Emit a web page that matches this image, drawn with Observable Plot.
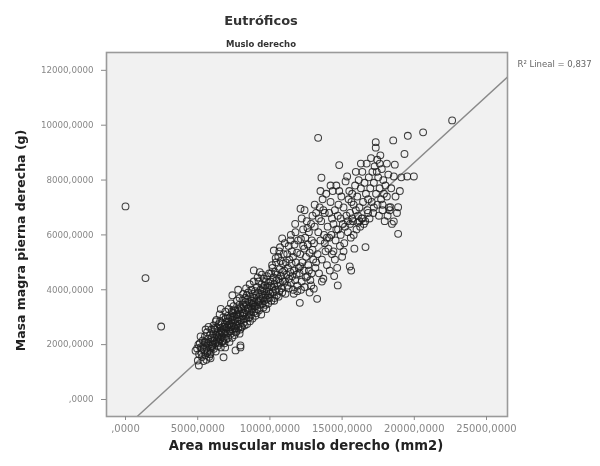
<!DOCTYPE html>
<html>
<head>
<meta charset="utf-8">
<script src="https://cdn.jsdelivr.net/npm/d3@7"></script>
<script src="https://cdn.jsdelivr.net/npm/@observablehq/plot@0.6"></script>
<style>
  html, body { margin: 0; padding: 0; background: #ffffff; }
  #chart svg { display: block; filter: blur(0.45px); }
</style>
</head>
<body>
<div id="chart"></div>
<script>
// ---- Data ----
const titulo = "Eutróficos";
const subtitulo = "Muslo derecho";
const etiquetaX = "Area muscular muslo derecho (mm2)";
const etiquetaY = "Masa magra pierna derecha (g)";
const etiquetaAjuste = "R² Lineal = 0,837";

const ticksX = [0, 5000, 10000, 15000, 20000, 25000];
const ticksY = [0, 2000, 4000, 6000, 8000, 10000, 12000];

// fitted line
const ajustePendiente = 0.4825;
const ajusteIntercepto = -1011;

// [area muscular (mm2), masa magra (g)]
const muestras = [
  [0,7040],[1385,4425],[2470,2660],
  [4850,1780],[4960,1860],[5010,1420],[5080,1240],[5100,1650],[5150,2050],[5200,1900],[5250,1700],[5300,1550],[5350,2150],
  [5400,1980],[5450,1800],[5500,2300],[5520,1620],[5580,2080],[5600,1900],[5650,2450],[5700,1750],[5720,2200],[5780,2000],
  [5800,1560],[5850,2350],[5880,1850],[5900,2100],[5950,2550],[5980,1950],[6000,2250],[5200,2300],[5600,1450],[5750,2650],
  [5400,1400],[5900,1700],[5050,2000],[5300,1850],[5700,2050],[5850,1650],[6000,1900],[5500,2100],[5650,1700],[5550,2550],
  [6050,2000],[6080,2400],[6100,2700],[6120,1850],[6150,2250],[6200,2550],[6220,2050],[6250,1750],[6280,2350],[6300,2900],
  [6320,2150],[6350,2600],[6380,1950],[6400,2450],[6420,2250],[6450,2750],[6480,2050],[6500,2400],[6520,3100],[6550,2200],
  [6580,2600],[6600,1900],[6620,2500],[6650,2800],[6680,2300],[6700,2100],[6720,2650],[6750,2450],[6780,3000],[6800,2250],
  [6820,2550],[6850,2050],[6880,2750],[6900,2400],[6920,3200],[6950,2600],[6980,2200],[7000,2850],[6150,2600],[6350,2300],
  [6550,2850],[6750,2150],[6950,2950],[6250,2850],[6450,2100],[6650,2450],[6850,2650],[6100,2150],[6600,3300],[6900,1900],
  [7020,2400],[7050,2650],[7080,3050],[7100,2250],[7120,2850],[7150,3300],[7180,2550],[7200,2100],[7220,2750],[7250,3000],
  [7280,2400],[7300,3500],[7320,2650],[7350,2900],[7380,2250],[7400,3150],[7420,2550],[7450,2800],[7480,3400],[7500,2650],
  [7520,3050],[7550,2350],[7580,2900],[7600,3250],[7620,1790],[7650,2700],[7680,3100],[7700,2500],[7720,3600],[7750,2850],
  [7780,3300],[7800,2600],[7820,3000],[7850,2750],[7880,3450],[7900,2400],[7920,3150],[7950,2900],[7960,1970],[7980,3350],
  [8000,2650],[7100,2950],[7300,2700],[7500,3250],[7700,2950],[7900,3700],[7150,2700],[7350,3200],[7550,2600],[7750,3100],
  [7950,2550],[7250,2500],[7450,3000],[7650,2450],[7850,3250],[6790,1540],[5890,1500],[7960,1900],[7400,3800],[7800,4000],
  [8020,2900],[8050,3300],[8080,2650],[8100,3600],[8120,3050],[8150,3850],[8180,2800],[8200,3400],[8220,3150],[8250,2700],
  [8280,3700],[8300,3250],[8320,2950],[8350,4050],[8380,3450],[8400,3100],[8420,2750],[8450,3650],[8480,3300],[8500,3900],
  [8520,3000],[8550,3550],[8580,3200],[8600,4200],[8620,2850],[8650,3750],[8680,3400],[8700,3100],[8720,4000],[8750,3600],
  [8780,3300],[8800,2950],[8820,3850],[8850,3500],[8880,4300],[8900,3200],[8920,3700],[8950,3400],[8980,3950],[9000,3050],
  [8100,3150],[8300,3550],[8500,3350],[8700,3500],[8900,3550],[8200,2950],[8400,3800],[8600,3000],[8800,3450],[8150,3450],
  [9020,3400],[9050,3800],[9080,3150],[9100,4100],[9120,3600],[9150,3300],[9180,3900],[9200,3550],[9220,4300],[9250,3250],
  [9280,3750],[9300,4640],[9320,3450],[9350,4000],[9380,3650],[9400,3100],[9420,4200],[9450,3850],[9480,3500],[9500,4050],
  [9520,3700],[9550,3350],[9580,4400],[9600,3950],[9620,3600],[9650,4150],[9680,3800],[9700,3450],[9720,4300],[9750,3950],
  [9780,3650],[9800,4500],[9820,4100],[9850,3800],[9880,3500],[9900,4250],[9920,3950],[9950,4600],[9980,3700],[10000,4150],
  [8885,4705],[9150,4450],[9450,4550],[9750,3300],[9250,3600],
  [10020,3850],[10050,4300],[10080,4600],[10100,3600],[10150,4100],[10180,4800],[10200,3900],[10250,4450],[10270,5430],[10300,4200],
  [10320,3700],[10350,4650],[10400,4000],[10420,5000],[10450,4350],[10480,3800],[10500,4550],[10550,4150],[10580,5200],[10600,4400],
  [10650,3950],[10680,4750],[10700,4250],[10750,5050],[10780,4500],[10800,4050],[10850,5870],[10880,4650],[10900,4300],[10950,5300],
  [11000,4700],[11030,5700],[10150,4900],[10400,5150],[10650,5400],[10900,4950],[10300,3600],[10600,3750],[10850,3900],[10700,5550],
  [11050,4300],[11080,3855],[11100,5000],[11150,4550],[11200,5300],[11220,4150],[11250,4800],[11300,5600],[11320,4400],[11350,5100],
  [11400,4650],[11420,5800],[11450,4250],[11500,4950],[11520,5400],[11550,4500],[11600,5200],[11650,3855],[11680,4700],[11700,5650],
  [11750,4350],[11770,6100],[11800,5000],[11850,4550],[11880,5350],[11900,4150],[11950,5800],[12000,4800],[12070,3525],[12120,6955],
  [11300,4050],[11600,4000],[11900,3950],[11450,6000],[11750,6400],
  [12050,4600],[12100,5300],[12150,5850],[12200,4300],[12250,5000],[12300,6200],[12350,4700],[12380,5500],[12400,4100],[12450,5900],
  [12500,5200],[12550,6500],[12600,4500],[12620,5650],[12650,4900],[12700,6100],[12750,5350],[12800,4350],[12860,4160],[12900,5800],
  [12950,6700],[13000,5100],[13040,4040],[12200,6600],[12400,6900],[12700,4700],[12850,6400],[12150,4000],[12500,4450],[12900,4600],
  [12300,5600],[12600,6250],[12950,5450],[12100,4850],[12750,3900],
  [13050,5700],[13100,6300],[13150,4800],[13200,6800],[13270,3670],[13300,5300],[13340,9540],[13350,6100],[13400,4600],[13450,7000],
  [13500,5800],[13550,6500],[13570,8085],[13600,5100],[13650,7300],[13700,4400],[13750,6000],[13800,6800],[13850,5400],[13900,7500],
  [13950,4900],[14000,6300],[13200,5000],[13500,7600],[13800,5700],[13100,7100],[13400,6600],[13700,6900],[13950,5900],[13600,4300],
  [14050,5500],[14100,6800],[14150,4700],[14200,7200],[14250,6000],[14300,5300],[14350,7600],[14400,6400],[14450,4500],[14500,6900],
  [14550,5800],[14600,7800],[14660,4800],[14700,4160],[14720,6200],[14750,7100],[14800,8545],[14850,5600],[14900,6600],[14950,7400],
  [15000,5200],[14100,5900],[14300,6600],[14500,5100],[14700,6700],[14900,6000],[14200,7800],[14400,5400],[14600,6200],[14800,7600],
  [15050,6400],[15100,7000],[15150,5700],[15240,7950],[15300,6700],[15350,8130],[15400,6100],[15450,7300],[15530,4850],[15550,6800],
  [15600,5900],[15630,4700],[15700,7500],[15750,6500],[15800,7100],[15850,5500],[15900,7800],[15950,6900],[16000,6200],[15200,6300],
  [15500,7600],[15800,6000],[15650,7200],[15100,5400],[15950,8300],[15400,6500],[15700,6600],[16100,6450],[15550,6400],
  [16050,7400],[16100,6700],[16150,8000],[16200,7000],[16250,6300],[16300,7700],[16350,6600],[16400,8300],[16450,7200],[16500,6400],
  [16550,7900],[16620,5555],[16650,7500],[16700,8600],[16750,6900],[16800,7300],[16850,8100],[16900,6600],[16950,7700],[17000,8800],
  [16200,6500],[16400,6600],[16600,6500],[16800,6800],[16300,8600],
  [17050,7200],[17100,8300],[17150,6800],[17200,7900],[17250,8500],[17330,9380],[17330,9180],[17350,7500],[17430,8740],[17450,7100],
  [17500,8100],[17550,6700],[17600,7700],[17650,8900],[17700,7300],[17750,8400],[17800,6900],[17850,8000],[17900,7500],[17950,6500],
  [18000,7800],[17200,7000],[17600,8600],[17400,8300],[17800,7100],
  [18540,9445],[18650,8560],[18580,8130],[18880,7010],[18350,7010],[18580,6490],[18880,6040],[19550,9615],[19320,8950],[19970,8130],
  [19510,8130],[18100,7400],[18200,8200],[18300,6900],[18400,7700],[18450,6400],[18700,7400],[18800,6800],[19000,7600],[18150,6700],
  [18250,7000],[19100,8100],[18100,8600],
  [20610,9740],[22620,10175]
];

const dominioX = [-1316, 26454];
const dominioY = [-620, 12650];

const puntos = muestras.map(([a, m]) => ({area: a, masa: m}));
const lineaAjuste = dominioX.map(a => ({area: a, masa: ajustePendiente * a + ajusteIntercepto}));

const fmt = d => (d === 0 ? "" : String(d)) + ",0000";
const fuente = "DejaVu Sans, Verdana, sans-serif";

const chart = Plot.plot({
  width: 600,
  height: 466,
  marginLeft: 106,
  marginRight: 93,
  marginTop: 52,
  marginBottom: 50,
  style: {fontFamily: fuente, background: "#ffffff"},
  x: {domain: dominioX},
  y: {domain: dominioY},
  marks: [
    Plot.frame({fill: "#f1f1f1", stroke: "none"}),
    Plot.line(lineaAjuste, {x: "area", y: "masa", stroke: "#8a8a8a", strokeWidth: 1.4, clip: true}),
    Plot.dot(puntos, {x: "area", y: "masa", r: 3.4, fill: "none", stroke: "#1e1e1e", strokeOpacity: 0.85, strokeWidth: 1.05}),
    Plot.frame({stroke: "#9a9a9a", strokeWidth: 1.6}),
    Plot.axisX({ticks: ticksX, tickFormat: fmt, tickSize: 4, tickPadding: 4, fontSize: 10, fill: "#888", stroke: "#8a8a8a", label: null}),
    Plot.axisY({ticks: ticksY, tickFormat: fmt, tickSize: 5, tickPadding: 8, fontSize: 8.7, fill: "#888", stroke: "#8a8a8a", label: null}),
    Plot.text([titulo], {frameAnchor: "top", dx: -46, dy: -37, fontSize: 13, fontWeight: "bold", fill: "#333"}),
    Plot.text([subtitulo], {frameAnchor: "top", dx: -46, dy: -12, fontSize: 8.5, fontWeight: "bold", fill: "#333"}),
    Plot.text([etiquetaX], {frameAnchor: "bottom", dx: -1, dy: 33, fontSize: 13.2, fontWeight: "bold", fill: "#222"}),
    Plot.text([etiquetaY], {frameAnchor: "left", textAnchor: "middle", rotate: -90, dx: -86, dy: 6, fontSize: 12.5, fontWeight: "bold", fill: "#222"}),
    Plot.text([etiquetaAjuste], {frameAnchor: "top-right", dx: 10, dy: 8, textAnchor: "start", fontSize: 8.5, fill: "#666"})
  ]
});
document.getElementById("chart").appendChild(chart);
</script>
</body>
</html>
